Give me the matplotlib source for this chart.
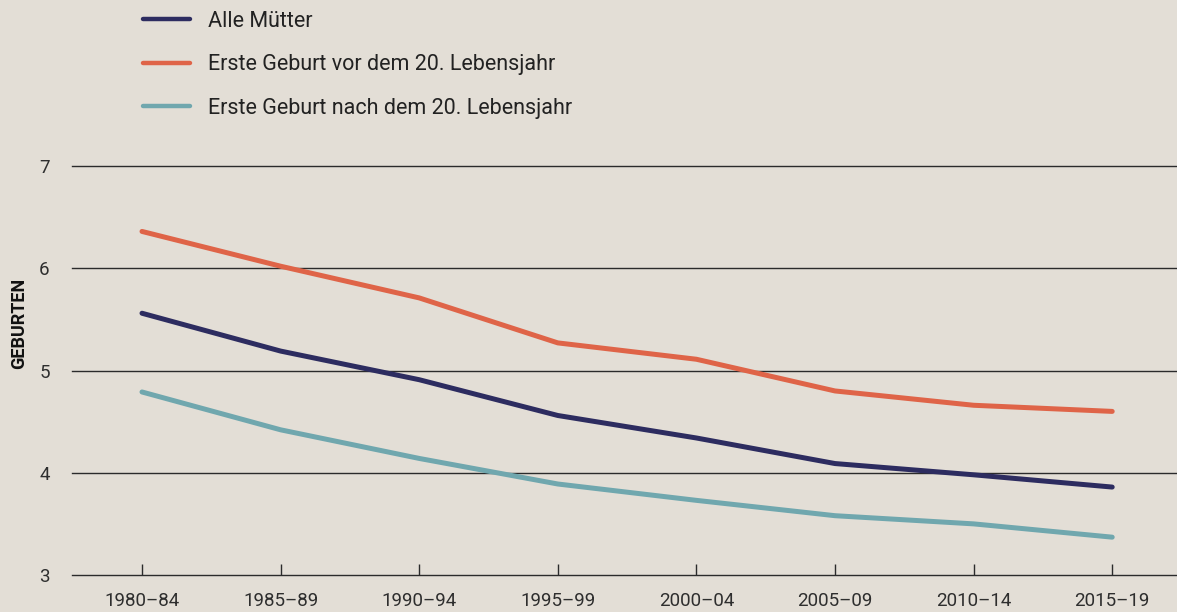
import matplotlib
matplotlib.use("Agg")
import matplotlib.pyplot as plt

# data
periods = ["1980–84", "1985–89", "1990–94", "1995–99", "2000–04", "2005–09", "2010–14", "2015–19"]
alle_muetter = [5.56, 5.19, 4.91, 4.56, 4.34, 4.09, 3.98, 3.86]
vor_20 = [6.36, 6.02, 5.71, 5.27, 5.11, 4.80, 4.66, 4.60]
nach_20 = [4.79, 4.42, 4.14, 3.89, 3.73, 3.58, 3.50, 3.37]
y_ticks = [3, 4, 5, 6, 7]

labels = ["Alle Mütter", "Erste Geburt vor dem 20. Lebensjahr", "Erste Geburt nach dem 20. Lebensjahr"]
colors = ["#2d2c60", "#df6448", "#70a7ae"]

BG = "#e3ded6"
plt.rcParams['font.family'] = ['Roboto', 'DejaVu Sans']

fig = plt.figure(figsize=(11.77, 6.12), dpi=100, facecolor=BG)
W, H = 1177, 612
ax = fig.add_axes([72 / W, 1 - 575 / H, 1 - 72 / W, (575 - 166) / H])
ax.set_facecolor(BG)

x = list(range(len(periods)))
for series, lab, col in zip([alle_muetter, vor_20, nach_20], labels, colors):
    ax.plot(x, series, color=col, lw=3.6, label=lab, solid_capstyle="round",
            solid_joinstyle="round", clip_on=False, zorder=3)

step = 138.6
ax.set_xlim(-(142 - 72) / step, (1177 - 142) / step)
ax.set_ylim(3, 7)

for v in y_ticks:
    ax.axhline(v, color="#2b2b2b", lw=1.0, zorder=1, clip_on=False)

for s in ax.spines.values():
    s.set_visible(False)

ax.set_xticks(x)
ax.set_xticklabels(periods)
ax.set_yticks(y_ticks)
ax.tick_params(axis="x", direction="in", length=8, width=1, color="#2b2b2b",
               labelsize=13.5, labelcolor="#2e2e2e", pad=12.5)
ax.tick_params(axis="y", length=0, labelsize=13.5, labelcolor="#2e2e2e", pad=16)

fig.text(19.5 / W, 1 - 323 / H, "GEBURTEN", rotation=90, ha="center", va="center",
         fontsize=13, fontweight="bold", color="#111111")

leg = fig.legend(loc="upper left", bbox_to_anchor=(143 / W, 1 - 11 / H), frameon=False,
                 fontsize=15.5, handlelength=2.18, handletextpad=0.84, labelspacing=1.04,
                 borderpad=0, borderaxespad=0)
for t in leg.get_texts():
    t.set_color("#222222")
for h in leg.get_lines():
    h.set_linewidth(3.2)

fig.savefig("out.png", dpi=100, facecolor=BG)
